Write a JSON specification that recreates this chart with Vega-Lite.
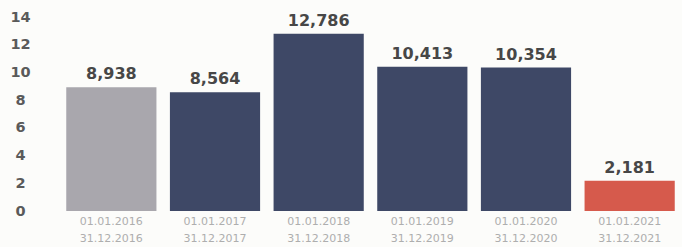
{
  "$schema": "https://vega.github.io/schema/vega-lite/v6.json",
  "width": 623,
  "height": 194,
  "autosize": "none",
  "padding": {"left": 59, "top": 17, "right": 0, "bottom": 36},
  "background": "#fcfcfa",
  "config": {"view": {"stroke": null}, "font": "DejaVu Sans"},
  "data": {
    "values": [
      {"period": "01.01.2016 - 31.12.2016", "value": 8.938, "label": "8,938", "group": "prior"},
      {"period": "01.01.2017 - 31.12.2017", "value": 8.564, "label": "8,564", "group": "main"},
      {"period": "01.01.2018 - 31.12.2018", "value": 12.786, "label": "12,786", "group": "main"},
      {"period": "01.01.2019 - 31.12.2019", "value": 10.413, "label": "10,413", "group": "main"},
      {"period": "01.01.2020 - 31.12.2020", "value": 10.354, "label": "10,354", "group": "main"},
      {"period": "01.01.2021 - 31.12.2021", "value": 2.181, "label": "2,181", "group": "current"}
    ]
  },
  "encoding": {
    "x": {
      "field": "period",
      "type": "nominal",
      "sort": null,
      "title": null,
      "scale": {"paddingInner": 0.13, "paddingOuter": 0.07},
      "axis": {
        "domain": false,
        "ticks": false,
        "labelAngle": 0,
        "labelExpr": "split(datum.label, ' - ')",
        "labelColor": "#aeaeae",
        "labelFontSize": 11,
        "labelLineHeight": 17,
        "labelPadding": 4
      }
    },
    "y": {
      "field": "value",
      "type": "quantitative",
      "title": null,
      "scale": {"domain": [0, 14], "nice": false},
      "axis": {
        "values": [0, 2, 4, 6, 8, 10, 12, 14],
        "domain": false,
        "ticks": false,
        "tickSize": 0,
        "grid": false,
        "labelAlign": "center",
        "labelPadding": 39,
        "labelColor": "#5a5a5a",
        "labelFontSize": 14.5,
        "labelFontWeight": "bold"
      }
    }
  },
  "layer": [
    {
      "mark": {"type": "bar"},
      "encoding": {
        "color": {
          "field": "group",
          "type": "nominal",
          "legend": null,
          "scale": {"domain": ["prior", "main", "current"], "range": ["#a9a7ad", "#3e4866", "#d65a4c"]}
        }
      }
    },
    {
      "mark": {"type": "text", "dy": -13, "fontSize": 16, "fontWeight": "bold", "color": "#474747"},
      "encoding": {"text": {"field": "label"}}
    }
  ]
}
